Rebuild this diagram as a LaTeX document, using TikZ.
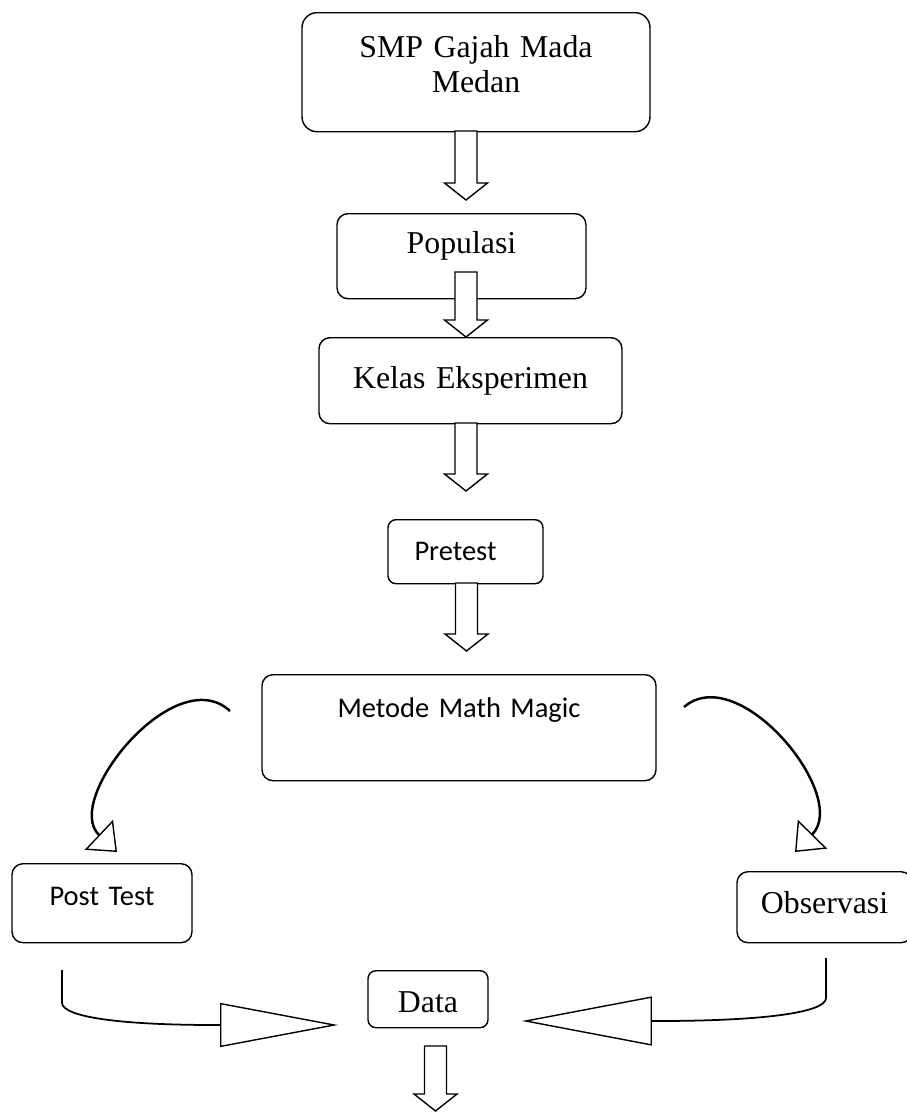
\documentclass[tikz,border=0pt]{standalone}
\usepackage{fontspec}
\setmainfont{Liberation Serif}
\newfontfamily\calibri{Carlito}
\usetikzlibrary{arrows.meta}

\tikzset{
	box/.style={draw, line width=0.8pt, rounded corners=0.22cm, inner sep=0pt, align=center, anchor=north,
		font=\fontsize{18.1}{19.8}\selectfont},
	sans/.style={font=\calibri\fontsize{16.2}{18}\selectfont},
	dims/.style n args={3}{text width=#1*0.02cm, text height=#2*0.02cm, text depth=#3*0.02cm},
	fatline/.style={draw, fill=white, line width=0.8pt, line join=miter},
	pics/fatarrow/.style={code={
		\draw[fatline] (-11,0) -- (-11,{#1-17}) -- (-21.5,{#1-17}) -- (0,#1) -- (21.5,{#1-17}) -- (11,{#1-17}) -- (11,0) -- cycle;
	}},
	swingarrow/.style={line width=1.4pt, -{Triangle[open, length=0.5cm, width=0.82cm, line width=0.8pt]}},
	joinarrow/.style 2 args={line width=1pt, -{Triangle[open, length=#1, width=#2, line width=0.8pt]}}
}

\begin{document}
\begin{tikzpicture}[x=0.02cm, y=-0.02cm]
\useasboundingbox (0,0) rectangle (906,1112);

\node[box, rounded corners=0.3cm, dims={348}{45}{74}] (smp) at (476,12) {SMP Gajah Mada\\Medan};
\node[box, dims={249}{40}{45}] (pop) at (461.5,213) {Populasi};
\node[box, dims={303}{51}{35}] (kelas) at (470.5,337) {Kelas Eksperimen};
\node[box, sans, rounded corners=0.16cm, dims={155}{41}{23}] (pretest) at (465.5,519) {Pretest\kern0.4cm};
\node[box, sans, dims={394}{43}{63}] (metode) at (459,674) {Metode Math Magic};
\node[box, sans, dims={180}{42}{37}] (posttest) at (102,863) {Post Test};
\node[box, dims={175}{42}{29}] (obs) at (824.5,871) {Observasi};
\node[box, rounded corners=0.16cm, dims={120}{42}{15}] (data) at (428,970) {Data};

% block arrows
\pic at (466,131) {fatarrow=69};
\pic at (466,272) {fatarrow=65};
\pic at (466,423) {fatarrow=68};
\pic at (466.5,583) {fatarrow=68};
\pic at (435.5,1046) {fatarrow=65};

% curved arrows out of the method box
\coordinate (l0) at (230,711);
\coordinate (l1) at (117,852);
\coordinate (r0) at (684,707);
\coordinate (r1) at (795,852);
\draw[swingarrow] (l0) .. controls (175,660) and (62,800) .. (l1);
\draw[swingarrow] (r0) .. controls (739,660) and (850,796) .. (r1);

% into data
\coordinate (p0) at (62,970);
\coordinate (p1) at (338,1025);
\coordinate (o0) at (826,958);
\coordinate (o1) at (522,1021);
\draw[joinarrow={2.36cm}{0.88cm}] (p0) -- (62,1003) .. controls (63,1017) and (120,1025) .. (215,1025) -- (p1);
\draw[joinarrow={2.6cm}{0.98cm}] (o0) -- (826,998) .. controls (826,1013) and (760,1021) .. (657,1021) -- (o1);
\end{tikzpicture}
\end{document}
